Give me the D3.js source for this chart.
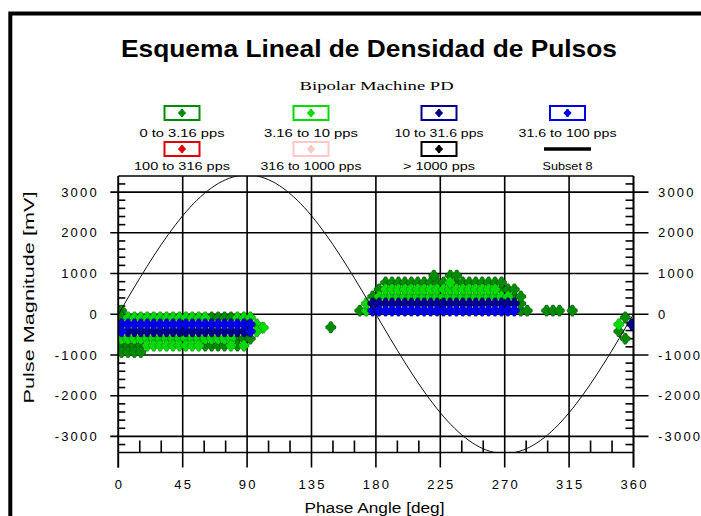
<!DOCTYPE html>
<html>
<head>
<meta charset="utf-8">
<script src="https://cdn.jsdelivr.net/npm/d3@7"></script>
<style>
  html, body { margin: 0; padding: 0; background: #fff; }
  svg { display: block; }
  text { font-family: "Liberation Sans", Arial, sans-serif; fill: #000; }
</style>
</head>
<body>
<svg id="chart" width="701" height="516"></svg>
<script>
// ---------- data ----------
const chartTitle = "Esquema Lineal de Densidad de Pulsos";
const chartSubtitle = "Bipolar Machine PD";
const xTitle = "Phase Angle [deg]";
const yTitle = "Pulse Magnitude [mV]";

const xTicks = [0, 45, 90, 135, 180, 225, 270, 315, 360];
const yTicks = [-3000, -2000, -1000, 0, 1000, 2000, 3000];

// pulse-rate classes and their colours
const classLabels = ["0 to 3.16 pps", "3.16 to 10 pps", "10 to 31.6 pps", "31.6 to 100 pps",
                     "100 to 316 pps", "316 to 1000 pps", "> 1000 pps"];
const classColors = ["#008c00", "#00dc00", "#000090", "#0000ee", "#e00000", "#ffc8c8", "#000000"];
const lineLabel = "Subset 8";

// detected pulses per class, as [magnitude mV, [phase deg, ...]]
const pulses0to3 = [
  [90,   [2.25, 168.75, 281.25, 285.75, 299.25, 303.75, 308.25, 317.25]],
  [265,  [281.25]],
  [435,  [177.75, 276.75, 281.25]],
  [610,  [182.25, 267.75, 272.25, 276.75]],
  [780,  [186.75, 191.25, 195.75, 200.25, 204.75, 209.25, 213.75, 218.25, 222.75, 227.25,
          236.25, 240.75, 245.25, 249.75, 254.25, 258.75, 263.25, 267.75]],
  [950,  [220.5, 232, 236.5]],
  [-80,  [2.25, 65.25, 69.75, 74.25, 78.75, 354.25]],
  [-320, [148.5]],
  [-420, [349.75]],
  [-600, [83.25, 87.75, 92.25, 354.25]],
  [-770, [2.25, 6.75, 11.25, 15.75, 60.75, 65.25, 69.75, 74.25, 83.25]],
  [-930, [2.25, 6.75, 11.25, 15.75]]
];
const pulses3to10 = [
  [90,   [173.25]],
  [265,  [173.25]],
  [435,  [182.25, 186.75, 191.25, 195.75, 200.25, 204.75, 209.25, 213.75, 218.25, 222.75,
          227.25, 231.75, 236.25, 240.75, 245.25, 249.75, 254.25, 258.75, 263.25, 267.75, 272.25]],
  [610,  [186.75, 191.25, 195.75, 200.25, 204.75, 209.25, 213.75, 218.25, 222.75, 227.25,
          231.75, 236.25, 240.75, 245.25, 249.75, 254.25, 258.75, 263.25]],
  [780,  [231.75]],
  [-80,  [6.75, 11.25, 15.75, 20.25, 24.75, 29.25, 33.75, 38.25, 42.75, 47.25, 51.75, 56.25,
          60.75, 83.25, 87.75, 92.25]],
  [-250, [96.75, 349.75]],
  [-330, [101.25]],
  [-420, [96.75]],
  [-600, [2.25, 6.75, 11.25, 15.75, 20.25, 24.75, 29.25, 33.75, 38.25, 42.75, 47.25, 51.75,
          56.25, 60.75, 65.25, 69.75, 74.25, 78.75]],
  [-770, [20.25, 24.75, 29.25, 33.75, 38.25, 42.75, 47.25, 51.75, 56.25, 78.75, 87.75]]
];
const pulses10to31 = [
  [265,  [177.75, 182.25, 186.75, 191.25, 195.75, 200.25, 204.75, 209.25, 213.75, 218.25,
          222.75, 227.25, 231.75, 236.25, 240.75, 245.25, 249.75, 254.25, 258.75, 263.25,
          267.75, 272.25, 276.75]],
  [-250, [358.75]],
  [-420, [6.75, 11.25, 15.75, 20.25, 24.75, 29.25, 33.75, 38.25, 42.75, 47.25, 51.75, 56.25,
          60.75, 65.25, 69.75, 74.25, 78.75, 83.25, 87.75]]
];
const pulses31to100 = [
  [90,   [177.75, 182.25, 186.75, 191.25, 195.75, 200.25, 204.75, 209.25, 213.75, 218.25,
          222.75, 227.25, 231.75, 236.25, 240.75, 245.25, 249.75, 254.25, 258.75, 263.25,
          267.75, 272.25, 276.75]],
  [-250, [2.25, 6.75, 11.25, 15.75, 20.25, 24.75, 29.25, 33.75, 38.25, 42.75, 47.25, 51.75,
          56.25, 60.75, 65.25, 69.75, 74.25, 78.75, 83.25, 87.75, 92.25]],
  [-420, [2.25, 92.25]]
];
const pulses100to316 = [];
const pulses316to1000 = [];
const pulsesOver1000 = [];

// reference voltage (Subset 8), sampled every 10 degrees
const refPhase = [0, 10, 20, 30, 40, 50, 60, 70, 80, 90, 100, 110, 120, 130, 140, 150, 160, 170, 180,
                  190, 200, 210, 220, 230, 240, 250, 260, 270, 280, 290, 300, 310, 320, 330, 340, 350, 360];
const refVoltage = [0, 594, 1170, 1710, 2198, 2620, 2962, 3214, 3368, 3420, 3368, 3214, 2962, 2620, 2198,
                    1710, 1170, 594, 0, -594, -1170, -1710, -2198, -2620, -2962, -3214, -3368, -3420,
                    -3368, -3214, -2962, -2620, -2198, -1710, -1170, -594, 0];

// ---------- drawing ----------
const svg = d3.select("#chart");
const L = 118.3, R = 633.5, T = 176, B = 452.5;
const x = d3.scaleLinear().domain([0, 360]).range([L, R]);
const y = d3.scaleLinear().domain([-3395, 3395]).range([B, T]);
const lineW = 1.6;

svg.append("rect").attr("width", 701).attr("height", 516).attr("fill", "#fff");

// outer frame
svg.append("rect")
  .attr("x", 10.3).attr("y", 13.5).attr("width", 760).attr("height", 600)
  .attr("fill", "none").attr("stroke", "#000").attr("stroke-width", 4);

// titles
svg.append("text").attr("x", 369).attr("y", 56.5)
  .attr("text-anchor", "middle").attr("font-size", 24).attr("font-weight", "bold")
  .attr("textLength", 496).attr("lengthAdjust", "spacingAndGlyphs")
  .text(chartTitle);
svg.append("text").attr("x", 376.6).attr("y", 89.5)
  .attr("text-anchor", "middle").attr("font-size", 13.5)
  .style("font-family", "'Liberation Serif', 'Times New Roman', serif")
  .attr("textLength", 154).attr("lengthAdjust", "spacingAndGlyphs")
  .text(chartSubtitle);

// marker: fat four-pointed star
const starPts = [[-1, -4.8], [1, -4.8], [2.4, -2.4], [4.4, -1], [4.4, 1], [2.4, 2.4],
                 [1, 4.8], [-1, 4.8], [-2.4, 2.4], [-4.4, 1], [-4.4, -1], [-2.4, -2.4]];
const markerD = "M" + starPts.map(p => p.join(",")).join("L") + "Z";
const markerScale = 1.18;

// legend
const legendCols = [182, 311, 439, 567.5];
const legendRows = [{ box: 113, text: 137 }, { box: 149, text: 169.5 }];
const legendTextW = [85, 94, 89, 98, 96, 101, 72, 50];
const legendItems = classLabels.map((lab, i) => ({ lab, color: classColors[i], kind: "marker" }))
  .concat([{ lab: lineLabel, color: "#000", kind: "line" }]);
const lg = svg.append("g");
legendItems.forEach((it, i) => {
  const cx = legendCols[i % 4], row = legendRows[Math.floor(i / 4)];
  if (it.kind === "marker") {
    lg.append("rect").attr("x", cx - 17.5).attr("y", row.box - 7).attr("width", 35).attr("height", 14)
      .attr("fill", "#fff").attr("stroke", it.color).attr("stroke-width", 2);
    lg.append("path").attr("d", markerD).attr("transform", `translate(${cx},${row.box}) scale(0.85)`)
      .attr("fill", it.color);
  } else {
    lg.append("line").attr("x1", cx - 23.5).attr("x2", cx + 23.5).attr("y1", row.box).attr("y2", row.box)
      .attr("stroke", "#000").attr("stroke-width", 3.5);
  }
  lg.append("text").attr("x", cx).attr("y", row.text).attr("text-anchor", "middle")
    .attr("font-size", 11).attr("textLength", legendTextW[i]).attr("lengthAdjust", "spacingAndGlyphs")
    .text(it.lab);
});

// grid lines and ticks
const grid = svg.append("g").attr("stroke", "#000").attr("stroke-width", lineW).attr("fill", "none");
xTicks.forEach(t => {
  grid.append("line").attr("x1", x(t)).attr("x2", x(t)).attr("y1", T).attr("y2", B + 15);
});
d3.range(15, 360, 15).filter(t => t % 45 !== 0).forEach(t => {
  grid.append("line").attr("x1", x(t)).attr("x2", x(t)).attr("y1", B).attr("y2", B - 12);
});
yTicks.forEach(t => {
  grid.append("line").attr("x1", L - 8).attr("x2", R + 15).attr("y1", y(t)).attr("y2", y(t));
});
d3.range(-3200, 3201, 200).filter(t => t % 1000 !== 0).forEach(t => {
  grid.append("line").attr("x1", L).attr("x2", L + 7).attr("y1", y(t)).attr("y2", y(t));
  grid.append("line").attr("x1", R - 8).attr("x2", R).attr("y1", y(t)).attr("y2", y(t));
});
grid.append("line").attr("x1", L).attr("x2", R).attr("y1", T).attr("y2", T);
grid.append("line").attr("x1", L).attr("x2", R).attr("y1", B).attr("y2", B);
grid.append("line").attr("x1", R).attr("x2", R).attr("y1", T).attr("y2", B + 15);

// plot-area clip
svg.append("clipPath").attr("id", "plotClip")
  .append("rect").attr("x", L).attr("y", T).attr("width", R - L).attr("height", B - T);

// pulses
const classData = [pulses0to3, pulses3to10, pulses10to31, pulses31to100,
                   pulses100to316, pulses316to1000, pulsesOver1000];
const pts = svg.append("g").attr("clip-path", "url(#plotClip)");
classData.forEach((rows, ci) => {
  const flat = rows.flatMap(([mv, phases]) => phases.map(p => [p, mv]));
  pts.selectAll(null).data(flat).enter().append("path")
    .attr("d", markerD)
    .attr("transform", d => `translate(${x(d[0])},${y(d[1])}) scale(${markerScale})`)
    .attr("fill", classColors[ci])
    .attr("stroke", "rgba(0,0,0,0.4)").attr("stroke-width", 0.5);
});

// reference sine
const refLine = d3.line().x(d => x(d[0])).y(d => y(d[1])).curve(d3.curveNatural);
svg.append("g").attr("clip-path", "url(#plotClip)")
  .append("path").datum(refPhase.map((p, i) => [p, refVoltage[i]]))
  .attr("d", refLine).attr("fill", "none").attr("stroke", "#111").attr("stroke-width", 1);

// left axis line on top
svg.append("line").attr("x1", L).attr("x2", L).attr("y1", T).attr("y2", B + 15)
  .attr("stroke", "#000").attr("stroke-width", lineW);

// tick labels
const ls = 2.2;
yTicks.forEach(t => {
  svg.append("text").attr("x", 96.7 + ls).attr("y", y(t) + 4.6).attr("text-anchor", "end")
    .attr("font-size", 13).style("letter-spacing", ls + "px").text(t);
  svg.append("text").attr("x", 658).attr("y", y(t) + 4.6).attr("text-anchor", "start")
    .attr("font-size", 13).style("letter-spacing", ls + "px").text(t);
});
xTicks.forEach(t => {
  svg.append("text").attr("x", x(t) + ls / 2).attr("y", 489).attr("text-anchor", "middle")
    .attr("font-size", 13).style("letter-spacing", ls + "px").text(t);
});

// axis titles
svg.append("text").attr("x", 374.5).attr("y", 513).attr("text-anchor", "middle")
  .attr("font-size", 14).attr("textLength", 140).attr("lengthAdjust", "spacingAndGlyphs")
  .text(xTitle);
svg.append("text").attr("transform", "translate(33.5,297.5) rotate(-90)")
  .attr("text-anchor", "middle").attr("font-size", 15)
  .attr("textLength", 212).attr("lengthAdjust", "spacingAndGlyphs")
  .text(yTitle);
</script>
</body>
</html>
